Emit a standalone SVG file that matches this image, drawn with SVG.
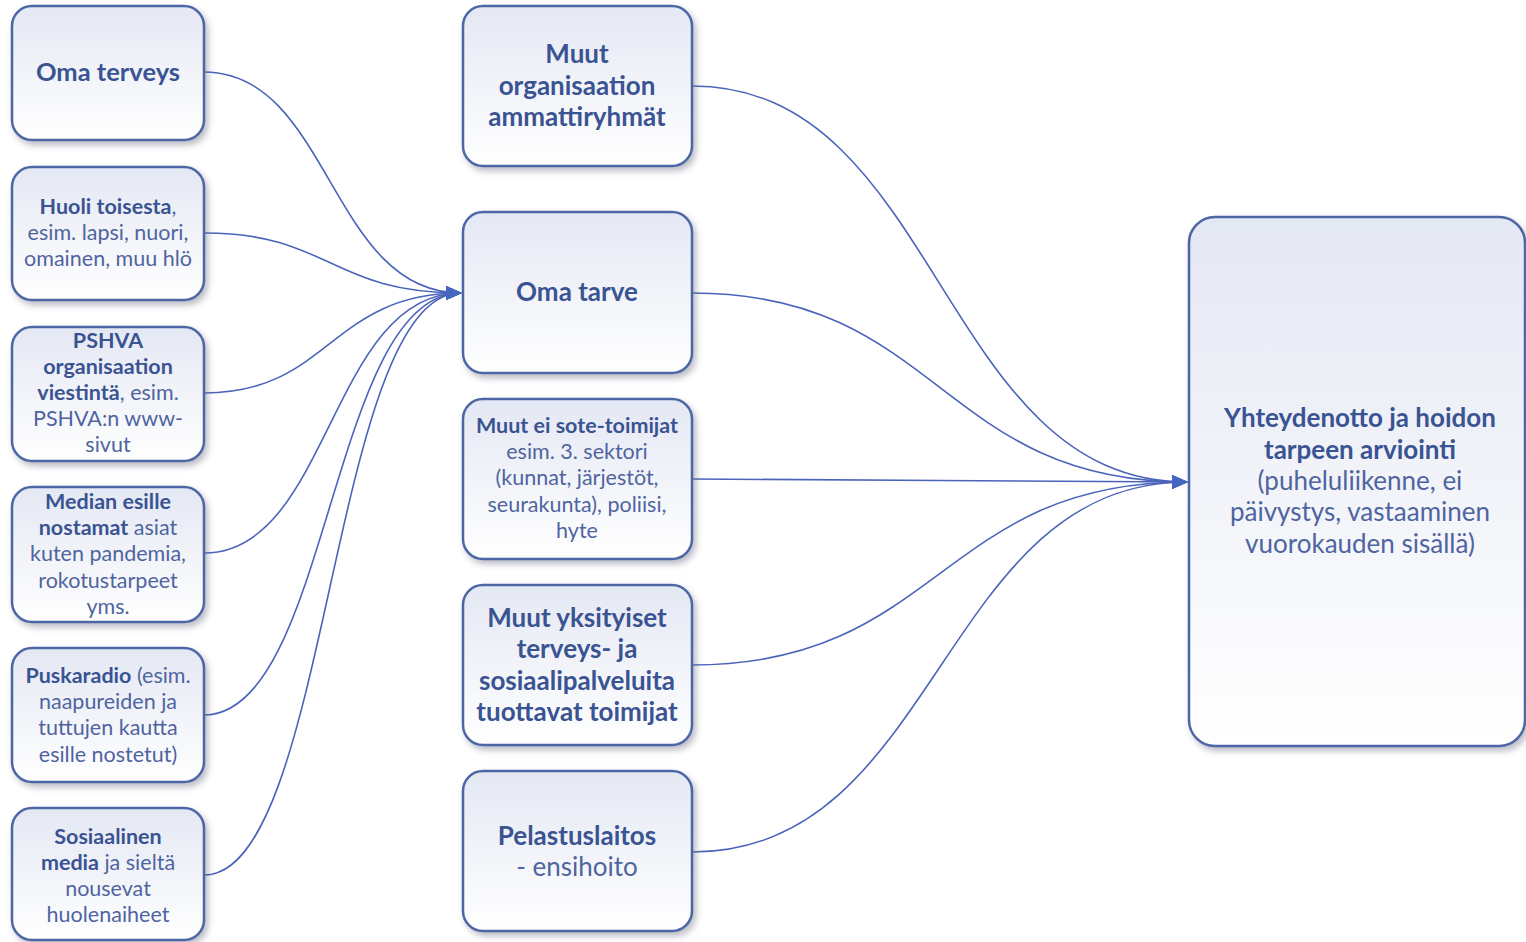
<svg xmlns="http://www.w3.org/2000/svg" width="1526" height="942" viewBox="0 0 1526 942">
<defs>
<linearGradient id="g" x1="0" y1="0" x2="0" y2="1">
<stop offset="0" stop-color="#e4e8f3"/>
<stop offset="1" stop-color="#ffffff"/>
</linearGradient>
<filter id="sh" x="-10%" y="-10%" width="125%" height="125%">
<feDropShadow dx="3" dy="4" stdDeviation="3" flood-color="#6a6f80" flood-opacity="0.45"/>
</filter>
<marker id="arr" viewBox="0 0 16 14" refX="15" refY="7" markerWidth="16" markerHeight="14" markerUnits="userSpaceOnUse" orient="auto">
<path d="M0,0 L16,7 L0,14 Z" fill="#4466c0"/>
</marker>
<style>
.box{fill:url(#g);stroke:#4d66a6;stroke-width:2.5;filter:url(#sh)}
text{font-family:Lato,"Open Sans","Liberation Sans",sans-serif;text-anchor:middle;fill:#4f64a0}
.b{font-weight:bold;fill:#3a5392}
.s{font-size:21.5px}
.m{font-size:26px}
.c{fill:none;stroke:#4a64bb;stroke-width:1.6}
</style>
</defs>
<g id="connectors">
<path class="c" d="M204,72 C330,72 330,293 461,293" marker-end="url(#arr)"/>
<path class="c" d="M204,233 C330,233 330,293 461,293" marker-end="url(#arr)"/>
<path class="c" d="M204,393 C330,393 330,293 461,293" marker-end="url(#arr)"/>
<path class="c" d="M204,553 C330,553 330,293 461,293" marker-end="url(#arr)"/>
<path class="c" d="M204,715 C330,715 330,293 461,293" marker-end="url(#arr)"/>
<path class="c" d="M204,875 C330,875 330,293 461,293" marker-end="url(#arr)"/>
<path class="c" d="M692,86 C940,86 940,482 1187,482" marker-end="url(#arr)"/>
<path class="c" d="M692,293 C940,293 940,482 1187,482" marker-end="url(#arr)"/>
<path class="c" d="M692,479 C940,479 940,482 1187,482" marker-end="url(#arr)"/>
<path class="c" d="M692,665 C940,665 940,482 1187,482" marker-end="url(#arr)"/>
<path class="c" d="M692,852 C940,852 940,482 1187,482" marker-end="url(#arr)"/>
</g>
<g id="oma-terveys">
<rect class="box" x="12" y="6" width="192" height="134" rx="20"/>
<text class="b" x="108" y="81" font-size="25.5">Oma terveys</text>
</g>
<g id="huoli">
<rect class="box" x="12" y="167" width="192" height="133" rx="20"/>
<text class="s" x="108" y="214"><tspan class="b">Huoli toisesta</tspan>,</text>
<text class="s" x="108" y="240">esim. lapsi, nuori,</text>
<text class="s" x="108" y="266">omainen, muu hlö</text>
</g>
<g id="pshva">
<rect class="box" x="12" y="327" width="192" height="134" rx="20"/>
<text class="s b" x="108" y="348">PSHVA</text>
<text class="s b" x="108" y="374">organisaation</text>
<text class="s" x="108" y="400"><tspan class="b">viestintä</tspan>, esim.</text>
<text class="s" x="108" y="426">PSHVA:n www-</text>
<text class="s" x="108" y="452">sivut</text>
</g>
<g id="median">
<rect class="box" x="12" y="487" width="192" height="135" rx="20"/>
<text class="s b" x="108" y="509">Median esille</text>
<text class="s" x="108" y="535"><tspan class="b">nostamat</tspan> asiat</text>
<text class="s" x="108" y="561">kuten pandemia,</text>
<text class="s" x="108" y="588">rokotustarpeet</text>
<text class="s" x="108" y="614">yms.</text>
</g>
<g id="puskaradio">
<rect class="box" x="12" y="648" width="192" height="134" rx="20"/>
<text class="s" x="108" y="683"><tspan class="b">Puskaradio</tspan> (esim.</text>
<text class="s" x="108" y="709">naapureiden ja</text>
<text class="s" x="108" y="735">tuttujen kautta</text>
<text class="s" x="108" y="762">esille nostetut)</text>
</g>
<g id="sosiaalinen">
<rect class="box" x="12" y="808" width="192" height="132" rx="20"/>
<text class="s b" x="108" y="844">Sosiaalinen</text>
<text class="s" x="108" y="870"><tspan class="b">media</tspan> ja sieltä</text>
<text class="s" x="108" y="896">nousevat</text>
<text class="s" x="108" y="922">huolenaiheet</text>
</g>
<g id="muut-organisaation">
<rect class="box" x="463" y="6" width="229" height="160" rx="20"/>
<text class="m b" x="577" y="63">Muut</text>
<text class="m b" x="577" y="95">organisaation</text>
<text class="m b" x="577" y="126">ammattiryhmät</text>
</g>
<g id="oma-tarve">
<rect class="box" x="463" y="212" width="229" height="161" rx="20"/>
<text class="m b" x="577" y="301">Oma tarve</text>
</g>
<g id="muut-ei-sote">
<rect class="box" x="463" y="399" width="229" height="160" rx="20"/>
<text class="s b" x="577" y="433">Muut ei sote-toimijat</text>
<text class="s" x="577" y="459">esim. 3. sektori</text>
<text class="s" x="577" y="485">(kunnat,  järjestöt,</text>
<text class="s" x="577" y="512">seurakunta), poliisi,</text>
<text class="s" x="577" y="538">hyte</text>
</g>
<g id="muut-yksityiset">
<rect class="box" x="463" y="585" width="229" height="160" rx="20"/>
<text class="m b" x="577" y="627">Muut yksityiset</text>
<text class="m b" x="577" y="658">terveys- ja</text>
<text class="m b" x="577" y="690">sosiaalipalveluita</text>
<text class="m b" x="577" y="721">tuottavat toimijat</text>
</g>
<g id="pelastuslaitos">
<rect class="box" x="463" y="771" width="229" height="160" rx="20"/>
<text class="m b" x="577" y="845">Pelastuslaitos</text>
<text class="m" x="577" y="876">- ensihoito</text>
</g>
<g id="yhteydenotto">
<rect class="box" x="1189" y="217" width="336" height="529" rx="26"/>
<text class="m b" x="1360" y="427">Yhteydenotto ja hoidon</text>
<text class="m b" x="1360" y="459">tarpeen arviointi</text>
<text class="m" x="1360" y="490">(puheluliikenne, ei</text>
<text class="m" x="1360" y="521">päivystys, vastaaminen</text>
<text class="m" x="1360" y="553">vuorokauden sisällä)</text>
</g>
</svg>
